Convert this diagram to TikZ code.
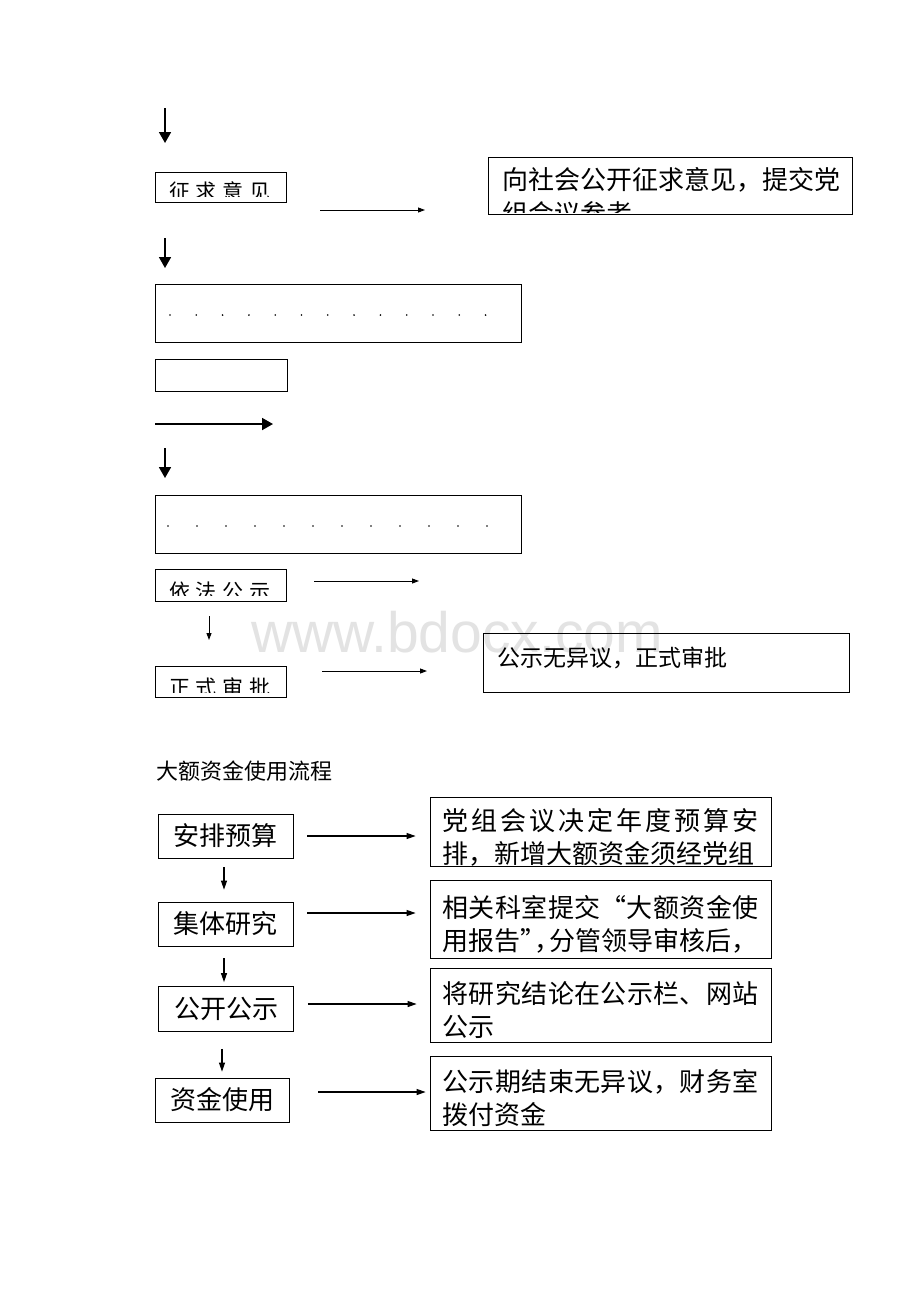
\documentclass[tikz,border=0pt]{standalone}
\usepackage{fontspec}
\setmainfont{Noto Sans CJK SC}
\newfontfamily\wmfont{Liberation Sans}
\usetikzlibrary{arrows.meta}
\XeTeXlinebreaklocale "zh"
\XeTeXlinebreakskip=0pt plus 4pt
\newcommand{\halfp}[1]{\makebox[0.55em][l]{#1}}

\begin{document}
\begin{tikzpicture}[x=1pt, y=-1pt,
    box/.style={draw, line width=0.8pt, inner sep=0pt},
    fatarrow/.style={line width=1.8pt, -{Triangle[length=11pt,width=12pt]}},
    thinarrow/.style={line width=0.9pt, -{Triangle[length=7pt,width=5pt]}},
    flowarrow/.style={line width=1.1pt, -{Triangle[length=9pt,width=6pt]}},
    cutlabel/.style={font=\fontsize{21}{21}\selectfont, inner sep=0pt},
    steplabel/.style={box, minimum width=135pt, minimum height=44pt, font=\fontsize{26}{28}\selectfont},
    notebox/.style={box, text width=316pt, inner xsep=12.5pt, align=justify, font=\fontsize{26}{33}\selectfont,
        execute at begin node=\rule{0pt}{33pt}}]
    \useasboundingbox[fill=white] (0,0) rectangle (920,1302);

    % Watermark
    \node[font=\wmfont\fontsize{57}{57}\selectfont, text=black!11, anchor=base] (wm) at (457,652) {www.bdocx.com};

    % Upper flow (cut-off part)
    \coordinate (d1s) at (165,108); \coordinate (d1e) at (165,143);
    \draw[fatarrow] (d1s) -- (d1e);

    \node[box, minimum width=131pt, minimum height=30pt] (opinion) at (220.5,187) {};
    \begin{scope}
        \clip (opinion.north west) rectangle ([yshift=6pt]opinion.south east);
        \node[cutlabel] (opiniontxt) at (220,191) {征\hspace{6pt}求\hspace{6pt}意\hspace{6pt}见};
    \end{scope}
    \coordinate (r1s) at (320,210); \coordinate (r1e) at (425,210);
    \draw[thinarrow] (r1s) -- (r1e);

    \node[box, minimum width=364pt, minimum height=57pt] (public) at (670,185.5) {};
    \begin{scope}
        \clip (public.north west) rectangle ([yshift=2pt]public.south east);
        \node[anchor=north west, align=left, inner sep=0pt, font=\fontsize{26}{34}\selectfont] (publictxt) at (502,167) {向社会公开征求意见，提交党\\组会议参考};
    \end{scope}

    \coordinate (d2s) at (165,238); \coordinate (d2e) at (165,268);
    \draw[fatarrow] (d2s) -- (d2e);

    \node[box, minimum width=366pt, minimum height=58pt] (dotsa) at (338,313) {};
    \foreach \i in {0,...,12}
        \fill (170+26.3*\i,315) circle (0.9pt);

    \node[box, minimum width=132pt, minimum height=32pt] (blank) at (221,375) {};

    \coordinate (r2s) at (155,424); \coordinate (r2e) at (273,424);
    \draw[fatarrow] (r2s) -- (r2e);

    \coordinate (d3s) at (165,448); \coordinate (d3e) at (165,478);
    \draw[fatarrow] (d3s) -- (d3e);

    \node[box, minimum width=366pt, minimum height=58pt] (dotsb) at (338,524) {};
    \foreach \i in {0,...,11}
        \fill (168+29*\i,526) circle (0.9pt);

    \node[box, minimum width=131pt, minimum height=32pt] (notice) at (220.5,585.5) {};
    \begin{scope}
        \clip (notice.north west) rectangle ([yshift=6pt]notice.south east);
        \node[cutlabel] (noticetxt) at (220,591.5) {依\hspace{6pt}法\hspace{6pt}公\hspace{6pt}示};
    \end{scope}
    \coordinate (r3s) at (314,581); \coordinate (r3e) at (419,581);
    \draw[thinarrow] (r3s) -- (r3e);

    \node[box, minimum width=131pt, minimum height=31pt] (approve) at (220.5,682) {};
    \draw[thinarrow, shorten <=15pt, shorten >=27pt] (209,601) -- (209,667);
    \begin{scope}
        \clip (approve.north west) rectangle ([yshift=5pt]approve.south east);
        \node[cutlabel] (approvetxt) at (220,687.5) {正\hspace{6pt}式\hspace{6pt}审\hspace{6pt}批};
    \end{scope}
    \coordinate (r4s) at (322,671); \coordinate (r4e) at (427,671);
    \draw[thinarrow] (r4s) -- (r4e);

    \node[box, minimum width=366pt, minimum height=59pt, font=\fontsize{23}{23}\selectfont,
          text width=338pt, inner xsep=14pt, align=left, anchor=north west] (nodissent) at (483,633) {\raisebox{12pt}{公示无异议，正式审批}};

    % Large fund use flow
    \node[anchor=west, inner sep=0pt, font=\fontsize{22}{22}\selectfont] (title) at (156,771) {大额资金使用流程};

    \node[steplabel] (ap) at (225.5,836) {安排预算};
    \node[steplabel] (jt) at (225.5,924) {集体研究};
    \node[steplabel, minimum height=45pt] (gk) at (226,1009) {公开公示};
    \node[steplabel, minimum width=134pt] (zj) at (222,1100) {资金使用};

    \node[notebox, minimum height=68pt] (n1) at (600.5,832) {党组会议决定年度预算安\linebreak 排，新增大额资金须经党组};
    \node[notebox, minimum height=78pt] (n2) at (600.5,919) {相关科室提交“大额资金使\linebreak 用报告\halfp{”}\halfp{，}分管领导审核后，};
    \node[notebox, minimum height=74pt] (n3) at (600.5,1005) {将研究结论在公示栏、网站\linebreak 公示};
    \node[notebox, minimum height=74pt] (n4) at (600.5,1093) {公示期结束无异议，财务室\linebreak 拨付资金};

    % Arrows
    \draw[flowarrow, shorten <=14pt, shorten >=14pt] (ap.east) -- (ap.east -| n1.west);
    \draw[flowarrow, shorten <=14pt, shorten >=14pt] ([yshift=11pt]jt.east) -- ([yshift=11pt]jt.east -| n2.west);
    \draw[flowarrow, shorten <=14pt, shorten >=13pt] ([yshift=5pt]gk.east) -- ([yshift=5pt]gk.east -| n3.west);
    \draw[flowarrow, shorten <=29pt, shorten >=4pt] ([yshift=8pt]zj.east) -- ([yshift=8pt]zj.east -| n4.west);

    \draw[flowarrow, shorten <=9pt, shorten >=12pt] ([xshift=-1.5pt]ap.south) -- ([xshift=-1.5pt]jt.north);
    \draw[flowarrow, shorten <=12pt, shorten >=4pt] ([xshift=-1.5pt]jt.south) -- ([xshift=-1.5pt]jt.south |- gk.north);
    \draw[flowarrow, shorten <=17pt, shorten >=6pt] (gk.south -| zj) -- (zj.north);
\end{tikzpicture}
\end{document}
